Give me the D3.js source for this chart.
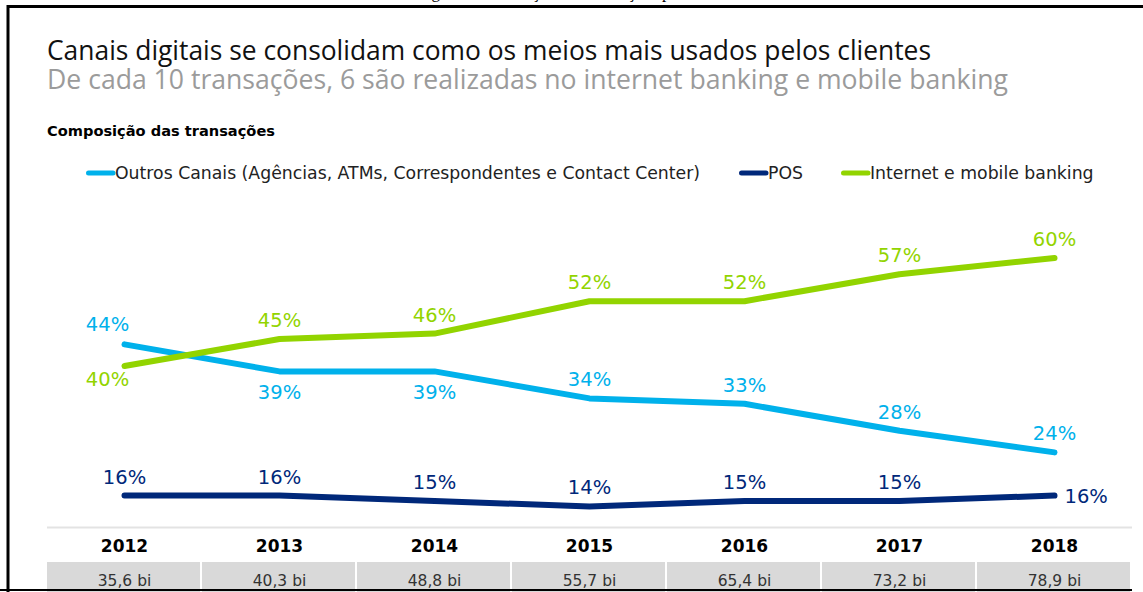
<!DOCTYPE html>
<html>
<head>
<meta charset="utf-8">
<script src="https://cdn.jsdelivr.net/npm/d3@7/dist/d3.min.js"></script>
<style>
	html, body { margin:0; padding:0; background:#fff; overflow:hidden; }
	svg { display:block; }
</style>
</head>
<body>
<svg id="chart" width="1143" height="592"></svg>
<script>
'use strict';

// values
var years = ["2012", "2013", "2014", "2015", "2016", "2017", "2018"];
var outrosCanais = [44, 39, 39, 34, 33, 28, 24];
var pos = [16, 16, 15, 14, 15, 15, 16];
var internetMobile = [40, 45, 46, 52, 52, 57, 60];
var volumes = ["35,6 bi", "40,3 bi", "48,8 bi", "55,7 bi", "65,4 bi", "73,2 bi", "78,9 bi"];
var seriesNames = ["Outros Canais (Agências, ATMs, Correspondentes e Contact Center)", "POS", "Internet e mobile banking"];

var W = 1143, H = 592;
var LABEL_FONT = "'DejaVu Sans', Verdana, sans-serif";
var TITLE_FONT = "'Open Sans', 'Noto Sans', sans-serif";

var svg = d3.select("#chart");

var series = [
	{ key: "outros", name: seriesNames[0], values: outrosCanais, color: "#00b1eb" },
	{ key: "pos", name: seriesNames[1], values: pos, color: "#00287a" },
	{ key: "internet", name: seriesNames[2], values: internetMobile, color: "#92d400" }
];

var x = d3.scaleBand().domain(years).range([47, 1132]).paddingInner(0).paddingOuter(0);
var y = d3.scaleLinear().domain([0, 60]).range([582, 258]);
var cx = function(d) { return x(d) + x.bandwidth() / 2; };

// page frame (scanned document border), caption of the page above is cut off
svg.append("rect").attr("width", W).attr("height", H).attr("fill", "#fff");
svg.append("text")
	.attr("x", 571).attr("y", -2)
	.attr("text-anchor", "middle")
	.style("font-family", "'Liberation Serif', serif")
	.style("font-size", "17px")
	.attr("fill", "#000")
	.text("Figura 3 – Evolução das transações por canal");
svg.append("path")
	.attr("d", "M8,592 V6.5 H1143")
	.attr("fill", "none").attr("stroke", "#000").attr("stroke-width", 3);

// titles
svg.append("text")
	.attr("x", 47).attr("y", 60)
	.style("font-family", TITLE_FONT)
	.style("font-size", "26.4px")
	.attr("fill", "#111")
	.text("Canais digitais se consolidam como os meios mais usados pelos clientes");
svg.append("text")
	.attr("x", 47).attr("y", 89)
	.style("font-family", TITLE_FONT)
	.style("font-size", "26.6px")
	.attr("fill", "#9b9b9b")
	.text("De cada 10 transações, 6 são realizadas no internet banking e mobile banking");
svg.append("text")
	.attr("x", 47).attr("y", 136)
	.style("font-family", LABEL_FONT)
	.style("font-size", "14.6px")
	.style("font-weight", "bold")
	.attr("fill", "#000")
	.text("Composição das transações");

// legend
var legendX = [86, 739, 841];
var legend = svg.append("g").attr("class", "legend")
	.selectAll("g").data(series).join("g")
	.attr("transform", function(d, i) { return "translate(" + legendX[i] + ",173)"; });
legend.append("line")
	.attr("x1", 2.5).attr("x2", 27)
	.attr("stroke", function(d) { return d.color; })
	.attr("stroke-width", 5).attr("stroke-linecap", "round");
legend.append("text")
	.attr("x", 29).attr("y", 6)
	.style("font-family", LABEL_FONT)
	.style("font-size", "17.3px")
	.attr("fill", "#222")
	.text(function(d) { return d.name; });

// lines
var line = d3.line()
	.x(function(d, i) { return cx(years[i]); })
	.y(function(d) { return y(d); });

svg.append("g").selectAll("path").data(series).join("path")
	.attr("d", function(d) { return line(d.values); })
	.attr("fill", "none")
	.attr("stroke", function(d) { return d.color; })
	.attr("stroke-width", 6)
	.attr("stroke-linecap", "round")
	.attr("stroke-linejoin", "round");

// value labels: placement chosen so they stay clear of the other lines
function placeLabel(s, i) {
	var px = cx(years[i]), py = y(s.values[i]);
	if (s.key === "internet") {
		return i === 0 ? { x: px - 17, y: py + 20, a: "middle" } : { x: px, y: py - 12, a: "middle" };
	}
	if (s.key === "outros") {
		if (i === 0) { return { x: px - 17, y: py - 13, a: "middle" }; }
		if (internetMobile[i] - s.values[i] < 10) { return { x: px, y: py + 28, a: "middle" }; }
		return { x: px, y: py - 12, a: "middle" };
	}
	if (i === years.length - 1) { return { x: px + 10, y: py + 7, a: "start" }; }
	return { x: px, y: py - 12, a: "middle" };
}

var labels = [];
series.forEach(function(s) {
	s.values.forEach(function(v, i) {
		var p = placeLabel(s, i);
		labels.push({ text: v + "%", color: s.color, x: p.x, y: p.y, a: p.a });
	});
});

svg.append("g").selectAll("text").data(labels).join("text")
	.attr("x", function(d) { return d.x; })
	.attr("y", function(d) { return d.y; })
	.attr("text-anchor", function(d) { return d.a; })
	.attr("fill", function(d) { return d.color; })
	.style("font-family", LABEL_FONT)
	.style("font-size", "19.5px")
	.text(function(d) { return d.text; });

// table under the chart
var table = svg.append("g").attr("class", "table");
table.append("line")
	.attr("x1", 47).attr("x2", 1132)
	.attr("y1", 527.5).attr("y2", 527.5)
	.attr("stroke", "#e3e3e3").attr("stroke-width", 2);

table.selectAll("text.year").data(years).join("text")
	.attr("class", "year")
	.attr("x", cx).attr("y", 552)
	.attr("text-anchor", "middle")
	.style("font-family", LABEL_FONT)
	.style("font-size", "17px")
	.style("font-weight", "bold")
	.attr("fill", "#000")
	.text(function(d) { return d; });

table.selectAll("rect").data(years).join("rect")
	.attr("x", function(d) { return x(d); })
	.attr("y", 562)
	.attr("width", x.bandwidth() - 2)
	.attr("height", 40)
	.attr("fill", "#d9d9d9");

table.selectAll("text.vol").data(volumes).join("text")
	.attr("class", "vol")
	.attr("x", function(d, i) { return cx(years[i]); })
	.attr("y", 586)
	.attr("text-anchor", "middle")
	.style("font-family", LABEL_FONT)
	.style("font-size", "15.5px")
	.attr("fill", "#333")
	.text(function(d) { return d; });

svg.append("line")
	.attr("x1", 0).attr("x2", 1132)
	.attr("y1", 590).attr("y2", 590)
	.attr("stroke", "#000").attr("stroke-width", 2);
</script>
</body>
</html>
